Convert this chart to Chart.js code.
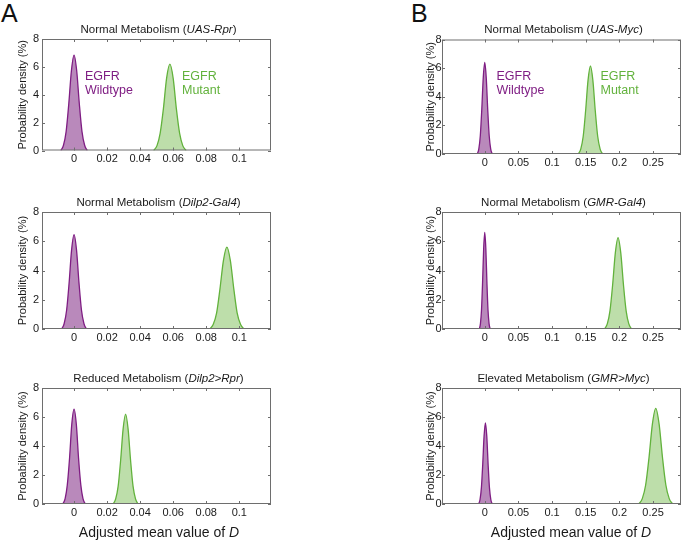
<!DOCTYPE html>
<html>
<head>
<meta charset="utf-8">
<script src="https://cdn.jsdelivr.net/npm/chart.js@4.4.1/dist/chart.umd.min.js"></script>
<style>
  body { margin: 0; background: #fff; }
  #wrap { position: relative; width: 684px; height: 542px; overflow: hidden; font-family: "Liberation Sans", Arial, sans-serif; }
  .box { position: absolute; }
  .letter { position: absolute; font-size: 25px; color: #111; line-height: 1; }
</style>
</head>
<body>
<div id="wrap">
  <div class="letter" style="left:1px;top:1px">A</div>
  <div class="letter" style="left:411px;top:1px">B</div>
</div>
<script>
// tick labels
const ticksA = [0, 0.02, 0.04, 0.06, 0.08, 0.1];
const ticksB = [0, 0.05, 0.1, 0.15, 0.2, 0.25];
const ticksY = [0, 1, 2, 3, 4, 5, 6, 7, 8];

// A, top: Normal Metabolism (UAS-Rpr)
const a1WildX = [-0.008, -0.0064, -0.0048, -0.0032, -0.0016, 0, 0.0016, 0.0032, 0.0048, 0.0064, 0.008];
const a1WildY = [0, 0.38, 1.36, 3.34, 5.72, 6.85, 5.72, 3.34, 1.36, 0.38, 0];
const a1MutX = [0.0482, 0.0502, 0.0521, 0.0541, 0.056, 0.058, 0.06, 0.0619, 0.0639, 0.0658, 0.0678];
const a1MutY = [0, 0.35, 1.23, 3.02, 5.18, 6.2, 5.18, 3.02, 1.23, 0.35, 0];

// A, middle: Normal Metabolism (Dilp2-Gal4)
const a2WildX = [-0.0075, -0.006, -0.0045, -0.003, -0.0015, 0, 0.0015, 0.003, 0.0045, 0.006, 0.0075];
const a2WildY = [0, 0.36, 1.28, 3.14, 5.39, 6.45, 5.39, 3.14, 1.28, 0.36, 0];
const a2MutX = [0.0822, 0.0842, 0.0863, 0.0883, 0.0904, 0.0925, 0.0946, 0.0967, 0.0987, 0.1008, 0.1028];
const a2MutY = [0, 0.31, 1.11, 2.73, 4.68, 5.6, 4.68, 2.73, 1.11, 0.31, 0];

// A, bottom: Reduced Metabolism (Dilp2>Rpr)
const a3WildX = [-0.0068, -0.0054, -0.0041, -0.0027, -0.0014, 0, 0.0014, 0.0027, 0.0041, 0.0054, 0.0068];
const a3WildY = [0, 0.37, 1.3, 3.19, 5.47, 6.55, 5.47, 3.19, 1.3, 0.37, 0];
const a3MutX = [0.0237, 0.0252, 0.0267, 0.0282, 0.0297, 0.0312, 0.0327, 0.0342, 0.0357, 0.0372, 0.0387];
const a3MutY = [0, 0.35, 1.23, 3.02, 5.18, 6.2, 5.18, 3.02, 1.23, 0.35, 0];

// B, top: Normal Metabolism (UAS-Myc)
const b1WildX = [-0.011, -0.0088, -0.0066, -0.0044, -0.0022, 0, 0.0022, 0.0044, 0.0066, 0.0088, 0.011];
const b1WildY = [0, 0.36, 1.27, 3.12, 5.34, 6.4, 5.34, 3.12, 1.27, 0.36, 0];
const b1MutX = [0.139, 0.1426, 0.1462, 0.1498, 0.1534, 0.157, 0.1606, 0.1642, 0.1678, 0.1714, 0.175];
const b1MutY = [0, 0.34, 1.22, 3.0, 5.14, 6.15, 5.14, 3.0, 1.22, 0.34, 0];

// B, middle: Normal Metabolism (GMR-Gal4)
const b2WildX = [-0.008, -0.0064, -0.0048, -0.0032, -0.0016, 0, 0.0016, 0.0032, 0.0048, 0.0064, 0.008];
const b2WildY = [0, 0.37, 1.31, 3.21, 5.51, 6.6, 5.51, 3.21, 1.31, 0.37, 0];
const b2MutX = [0.178, 0.182, 0.186, 0.19, 0.194, 0.198, 0.202, 0.206, 0.21, 0.214, 0.218];
const b2MutY = [0, 0.35, 1.24, 3.04, 5.22, 6.25, 5.22, 3.04, 1.24, 0.35, 0];

// B, bottom: Elevated Metabolism (GMR>Myc)
const b3WildX = [-0.009, -0.007, -0.005, -0.003, -0.001, 0.001, 0.003, 0.005, 0.007, 0.009, 0.011];
const b3WildY = [0, 0.31, 1.11, 2.73, 4.68, 5.6, 4.68, 2.73, 1.11, 0.31, 0];
const b3MutX = [0.229, 0.234, 0.239, 0.244, 0.249, 0.254, 0.259, 0.264, 0.269, 0.274, 0.279];
const b3MutY = [0, 0.37, 1.31, 3.21, 5.51, 6.6, 5.51, 3.21, 1.31, 0.37, 0];

// titles: plain / italic / plain
const titleA1 = ['Normal Metabolism (', 'UAS-Rpr', ')'];
const titleA2 = ['Normal Metabolism (', 'Dilp2-Gal4', ')'];
const titleA3 = ['Reduced Metabolism (', 'Dilp2>Rpr', ')'];
const titleB1 = ['Normal Metabolism (', 'UAS-Myc', ')'];
const titleB2 = ['Normal Metabolism (', 'GMR-Gal4', ')'];
const titleB3 = ['Elevated Metabolism (', 'GMR>Myc', ')'];

const PURPLE = '#7f1d83';
const PURPLE_FILL = 'rgba(128, 40, 132, 0.55)';
const GREEN = '#62b23c';
const GREEN_FILL = 'rgba(108, 182, 66, 0.45)';
const FONT = '"Liberation Sans", Arial, sans-serif';

function pts(xs, ys) {
    return xs.map((x, i) => ({ x, y: ys[i] }));
}

function curve(xs, ys, color, fill) {
    return {
        data: pts(xs, ys),
        showLine: true,
        borderColor: color,
        backgroundColor: fill,
        borderWidth: 1.3,
        pointRadius: 0,
        fill: 'origin',
        cubicInterpolationMode: 'monotone',
    };
}

function drawMixed(ctx, parts, cx, cy, size) {
    const fonts = parts.map((_, i) => `${i % 2 ? 'italic ' : ''}${size}px ${FONT}`);
    let total = 0;
    const widths = parts.map((p, i) => {
        ctx.font = fonts[i];
        const w = ctx.measureText(p).width;
        total += w;
        return w;
    });
    let x = cx - total / 2;
    ctx.textAlign = 'left';
    ctx.textBaseline = 'middle';
    parts.forEach((p, i) => {
        ctx.font = fonts[i];
        ctx.fillText(p, x, cy);
        x += widths[i];
    });
}

const deco = {
    id: 'deco',
    afterDraw(chart, args, o) {
        const { ctx, chartArea: a, scales: { x, y } } = chart;
        ctx.save();
        ctx.strokeStyle = '#6e6e6e';
        ctx.lineWidth = 1;
        ctx.strokeRect(a.left + 0.5, a.top + 0.5, a.right - a.left - 1, a.bottom - a.top - 1);
        ctx.beginPath();
        x.ticks.forEach(t => {
            const px = Math.round(x.getPixelForValue(t.value)) + 0.5;
            ctx.moveTo(px, a.bottom); ctx.lineTo(px, a.bottom - 3);
            ctx.moveTo(px, a.top); ctx.lineTo(px, a.top + 3);
        });
        y.ticks.forEach(t => {
            const py = Math.round(y.getPixelForValue(t.value)) + 0.5;
            ctx.moveTo(a.left, py); ctx.lineTo(a.left + 3, py);
            ctx.moveTo(a.right, py); ctx.lineTo(a.right - 3, py);
        });
        ctx.stroke();

        ctx.fillStyle = '#1a1a1a';
        drawMixed(ctx, o.title, (a.left + a.right) / 2 + 2, a.top - 9.5, 11.5);

        // y title
        ctx.save();
        ctx.translate(o.yTitleX, (a.top + a.bottom) / 2);
        ctx.rotate(-Math.PI / 2);
        ctx.font = `11px ${FONT}`;
        ctx.textAlign = 'center';
        ctx.textBaseline = 'middle';
        ctx.fillText('Probability density (%)', 0, 0);
        ctx.restore();

        if (o.xTitleX) {
            drawMixed(ctx, ['Adjusted mean value of ', 'D'], o.xTitleX, o.xTitleY, 14);
        }
        if (o.labels) {
            ctx.font = `12.5px ${FONT}`;
            ctx.textAlign = 'left';
            ctx.textBaseline = 'middle';
            ctx.fillStyle = PURPLE;
            ctx.fillText('EGFR', o.labels[0], o.labels[2]);
            ctx.fillText('Wildtype', o.labels[0], o.labels[2] + 14);
            ctx.fillStyle = GREEN;
            ctx.fillText('EGFR', o.labels[1], o.labels[2]);
            ctx.fillText('Mutant', o.labels[1], o.labels[2] + 14);
        }
        ctx.restore();
    },
};

const fmt = v => String(+v.toFixed(3));

const panels = [
    { box: [0, 0, 282, 175], padTop: 39, axisH: 24.5, padRight: 11, range: [-0.0194, 0.1192], ticks: ticksA, tickPad: 3,
      title: titleA1, yTitleX: 23, labels: [85, 182, 77],
      curves: [[a1WildX, a1WildY], [a1MutX, a1MutY]] },
    { box: [0, 175, 282, 175], padTop: 37, axisH: 21, padRight: 11, range: [-0.0194, 0.1192], ticks: ticksA, tickPad: 3,
      title: titleA2, yTitleX: 23,
      curves: [[a2WildX, a2WildY], [a2MutX, a2MutY]] },
    { box: [0, 350, 282, 192], padTop: 38, axisH: 38, padRight: 11, range: [-0.0194, 0.1192], ticks: ticksA, tickPad: 3,
      title: titleA3, yTitleX: 23, xTitle: [159, 183],
      curves: [[a3WildX, a3WildY], [a3MutX, a3MutY]] },
    { box: [400, 0, 284, 175], padTop: 39.5, axisH: 21, padRight: 3, range: [-0.0635, 0.2915], ticks: ticksB, tickPad: 0.5,
      title: titleB1, yTitleX: 30.5, labels: [96.5, 200.5, 77],
      curves: [[b1WildX, b1WildY], [b1MutX, b1MutY]] },
    { box: [400, 175, 284, 175], padTop: 37, axisH: 21, padRight: 3, range: [-0.0635, 0.2915], ticks: ticksB, tickPad: 0.5,
      title: titleB2, yTitleX: 30.5,
      curves: [[b2WildX, b2WildY], [b2MutX, b2MutY]] },
    { box: [400, 350, 284, 192], padTop: 38, axisH: 38, padRight: 3, range: [-0.0635, 0.2915], ticks: ticksB, tickPad: 0.5,
      title: titleB3, yTitleX: 30.5, xTitle: [171, 183],
      curves: [[b3WildX, b3WildY], [b3MutX, b3MutY]] },
];

const wrap = document.getElementById('wrap');
panels.forEach(p => {
    const [left, top, w, h] = p.box;
    const div = document.createElement('div');
    div.className = 'box';
    div.style.cssText = `left:${left}px;top:${top}px;width:${w}px;height:${h}px`;
    const canvas = document.createElement('canvas');
    canvas.width = w;
    canvas.height = h;
    div.appendChild(canvas);
    wrap.appendChild(div);

    new Chart(canvas.getContext('2d'), {
        type: 'scatter',
        data: {
            datasets: [
                curve(p.curves[0][0], p.curves[0][1], PURPLE, PURPLE_FILL),
                curve(p.curves[1][0], p.curves[1][1], GREEN, GREEN_FILL),
            ],
        },
        options: {
            responsive: false,
            animation: false,
            layout: { padding: { top: p.padTop, right: p.padRight, left: 0, bottom: 0 } },
            plugins: {
                legend: { display: false },
                tooltip: { enabled: false },
                deco: {
                    title: p.title,
                    yTitleX: p.yTitleX,
                    labels: p.labels,
                    xTitleX: p.xTitle ? p.xTitle[0] : 0,
                    xTitleY: p.xTitle ? p.xTitle[1] : 0,
                },
            },
            scales: {
                x: {
                    type: 'linear',
                    min: p.range[0],
                    max: p.range[1],
                    grid: { display: false, drawTicks: false },
                    border: { display: false },
                    afterBuildTicks: s => { s.ticks = p.ticks.map(v => ({ value: v })); },
                    afterFit: s => { s.height = p.axisH; },
                    ticks: {
                        padding: 2,
                        maxRotation: 0,
                        autoSkip: false,
                        color: '#1a1a1a',
                        font: { family: FONT, size: 11 },
                        callback: v => fmt(v),
                    },
                },
                y: {
                    min: 0,
                    max: 8,
                    grid: { display: false, drawTicks: false },
                    border: { display: false },
                    afterBuildTicks: s => { s.ticks = ticksY.map(v => ({ value: v })); },
                    afterFit: s => { s.width = 42; },
                    ticks: {
                        padding: p.tickPad,
                        color: '#1a1a1a',
                        font: { family: FONT, size: 11 },
                        callback: v => (v % 2 === 0 ? String(v) : ''),
                    },
                },
            },
        },
        plugins: [deco],
    });
});
</script>
</body>
</html>
